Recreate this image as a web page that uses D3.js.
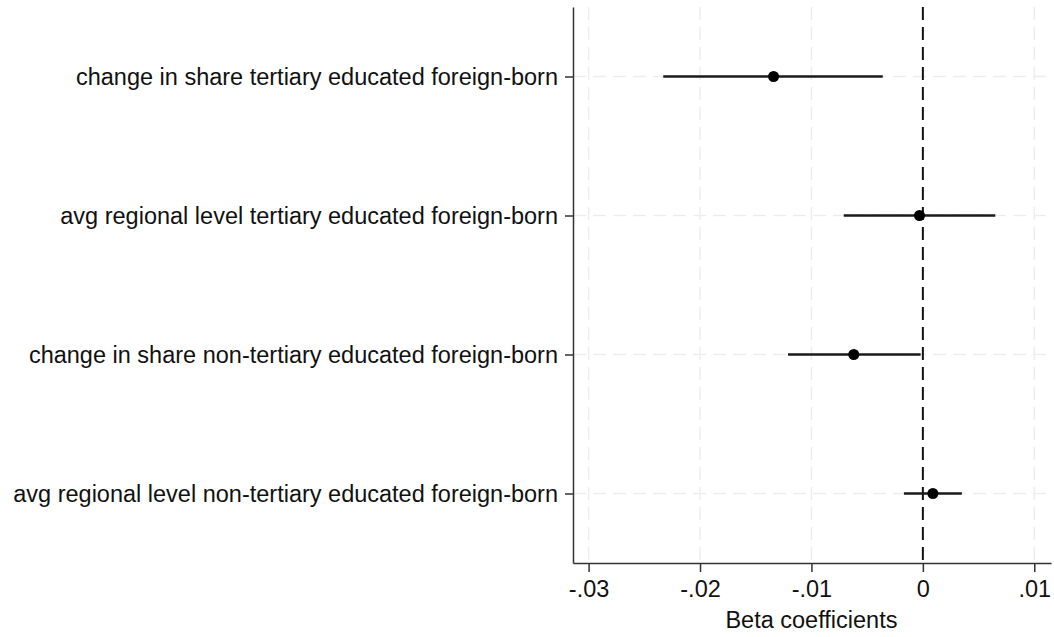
<!DOCTYPE html>
<html>
<head>
<meta charset="utf-8">
<script src="https://cdn.jsdelivr.net/npm/d3@7"></script>
<style>
  body { margin: 0; background: #fff; }
  text { font-family: "Liberation Sans", Arial, Helvetica, sans-serif; fill: #111; }
</style>
</head>
<body>
<svg id="chart" width="1054" height="637"></svg>
<script>
const labels = [
    "change in share tertiary educated foreign-born",
    "avg regional level tertiary educated foreign-born",
    "change in share non-tertiary educated foreign-born",
    "avg regional level non-tertiary educated foreign-born"
];
const coef  = [-0.0134, -0.0003, -0.0062, 0.0009];
const lower = [-0.0233, -0.0071, -0.0121, -0.0017];
const upper = [-0.0036, 0.0065, -0.0002, 0.0035];
const xTicks = [-0.03, -0.02, -0.01, 0, 0.01];
const xTickLabels = ["-.03", "-.02", "-.01", "0", ".01"];

const rows = labels.map((l, i) => ({ label: l, b: coef[i], lo: lower[i], hi: upper[i] }));

const svg = d3.select("#chart");
const plotLeft = 573, plotRight = 1051, plotTop = 7, plotBottom = 563;
const fontSize = "23.5px";

const x = d3.scaleLinear().domain([-0.0314, 0.0115]).range([plotLeft, plotRight]);
const y = d3.scalePoint().domain(labels).range([plotTop, plotBottom]).padding(0.5);

// grid lines
svg.append("g").selectAll("line")
    .data(xTicks.filter(d => d !== 0))
    .enter().append("line")
    .attr("x1", d => x(d)).attr("x2", d => x(d))
    .attr("y1", plotTop).attr("y2", plotBottom)
    .attr("stroke", "#ededed").attr("stroke-width", 1.5)
    .attr("stroke-dasharray", "13,7");

svg.append("g").selectAll("line")
    .data(labels)
    .enter().append("line")
    .attr("x1", plotLeft).attr("x2", plotRight)
    .attr("y1", d => y(d)).attr("y2", d => y(d))
    .attr("stroke", "#ededed").attr("stroke-width", 1.5)
    .attr("stroke-dasharray", "13,7");

// zero reference line
svg.append("line")
    .attr("x1", x(0)).attr("x2", x(0))
    .attr("y1", plotTop).attr("y2", plotBottom)
    .attr("stroke", "#111").attr("stroke-width", 2)
    .attr("stroke-dasharray", "13,7");

// confidence intervals
svg.append("g").selectAll("line")
    .data(rows)
    .enter().append("line")
    .attr("x1", d => x(d.lo)).attr("x2", d => x(d.hi))
    .attr("y1", d => y(d.label)).attr("y2", d => y(d.label))
    .attr("stroke", "#1a1a1a").attr("stroke-width", 2.5);

// point estimates
svg.append("g").selectAll("circle")
    .data(rows)
    .enter().append("circle")
    .attr("cx", d => x(d.b)).attr("cy", d => y(d.label))
    .attr("r", 5.5)
    .attr("fill", "#000");

// x axis
const xAxis = svg.append("g")
    .attr("transform", `translate(0,${plotBottom})`)
    .call(d3.axisBottom(x).tickValues(xTicks).tickFormat((d, i) => xTickLabels[i]).tickSize(9).tickSizeOuter(0).tickPadding(8));
xAxis.select(".domain").attr("stroke", "#333").attr("stroke-width", 1.5);
xAxis.selectAll(".tick line").attr("stroke", "#333").attr("stroke-width", 1.5);
xAxis.selectAll("text").style("font-size", fontSize).attr("fill", "#111")
    .style("font-family", "'Liberation Sans', Arial, sans-serif");

// y axis
const yAxis = svg.append("g")
    .attr("transform", `translate(${plotLeft},0)`)
    .call(d3.axisLeft(y).tickSize(8).tickSizeOuter(0).tickPadding(7));
yAxis.select(".domain").attr("stroke", "#333").attr("stroke-width", 1.5);
yAxis.selectAll(".tick line").attr("stroke", "#333").attr("stroke-width", 1.5);
yAxis.selectAll("text").style("font-size", fontSize).attr("fill", "#111")
    .style("font-family", "'Liberation Sans', Arial, sans-serif");

// axis title
svg.append("text")
    .attr("x", (x(-0.03) + x(0.01)) / 2)
    .attr("y", 628)
    .attr("text-anchor", "middle")
    .style("font-size", fontSize)
    .text("Beta coefficients");
</script>
</body>
</html>
